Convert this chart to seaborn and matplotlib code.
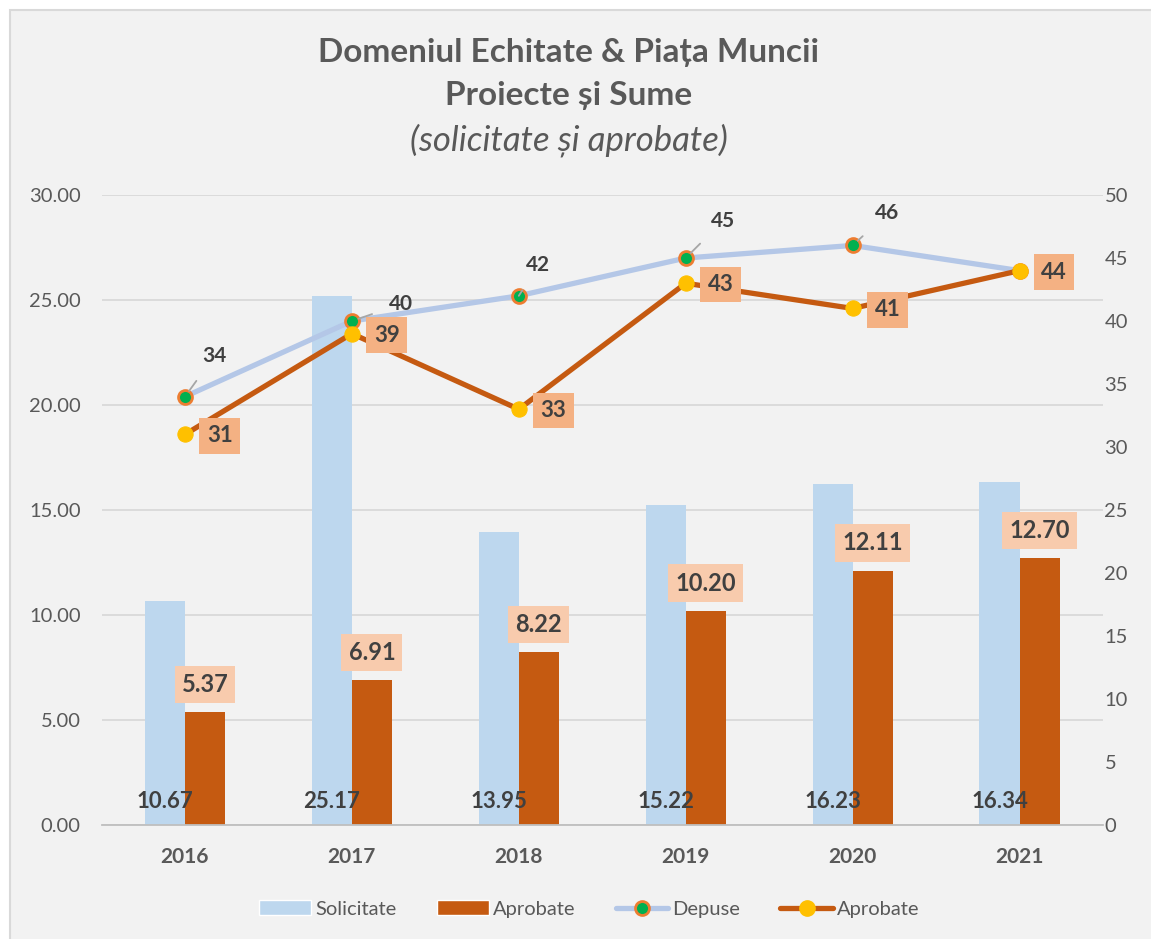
import numpy as np
import pandas as pd
import matplotlib
matplotlib.use("Agg")
import matplotlib.pyplot as plt
from matplotlib.patches import Patch, Rectangle
from matplotlib.lines import Line2D
import seaborn as sns

# Data
years = ['2016', '2017', '2018', '2019', '2020', '2021']
solicitate = [10.67, 25.17, 13.95, 15.22, 16.23, 16.34]
aprobate_sume = [5.37, 6.91, 8.22, 10.20, 12.11, 12.70]
depuse = [34, 40, 42, 45, 46, 44]
aprobate_nr = [31, 39, 33, 43, 41, 44]

sns.set_style("white")
plt.rcParams['font.family'] = ['Lato', 'DejaVu Sans']

BG = '#F2F2F2'
GRAY = '#595959'
DARK = '#404040'
C_SOL = '#BDD7EE'
C_APR = '#C55A11'
C_DEP = '#B4C7E7'

df = pd.DataFrame({
    'An': years * 2,
    'Suma': solicitate + aprobate_sume,
    'Tip': ['Solicitate'] * len(years) + ['Aprobate'] * len(years),
})

fig = plt.figure(figsize=(11.51, 9.39), dpi=100, facecolor='white')
fig.add_artist(Rectangle((10 / 1151, -0.01), 1.1, (929 / 939) + 0.01,
                         transform=fig.transFigure, facecolor=BG,
                         edgecolor='#D9D9D9', lw=1.5, zorder=-1))
ax = fig.add_axes([0.0882, 0.1214, 0.8701, 0.6709])
ax.set_facecolor(BG)

sns.barplot(data=df, x='An', y='Suma', hue='Tip', palette=[C_SOL, C_APR],
            width=0.48, gap=0, errorbar=None, saturation=1, linewidth=0,
            legend=False, ax=ax)
ax.set_xlim(-0.5, 5.5)
ax.set_ylim(0, 30)
ax.set_yticks(np.arange(0, 31, 5))
ax.set_yticklabels([f'{v:.2f}' for v in np.arange(0, 31, 5)])
ax.yaxis.grid(True, color='#D9D9D9', lw=1.3)
ax.set_axisbelow(True)
for s in ['top', 'right', 'left']:
    ax.spines[s].set_visible(False)
ax.spines['bottom'].set_color('#BFBFBF')
ax.spines['bottom'].set_linewidth(1.3)
ax.set_xlabel('')
ax.set_ylabel('')
ax.tick_params(axis='y', length=0, pad=15, labelsize=14.5, labelcolor=GRAY)
ax.tick_params(axis='x', length=0, pad=16, labelsize=15, labelcolor=GRAY)
for t in ax.get_xticklabels():
    t.set_fontweight('bold')

idx = np.arange(len(years))

# bar value labels
for i, v in enumerate(solicitate):
    ax.text(i - 0.12, 1.1, f'{v:.2f}', ha='center', va='center',
            fontsize=16, fontweight='bold', color=DARK)
for i, v in enumerate(aprobate_sume):
    ax.annotate(f'{v:.2f}', (i + 0.12, v), xytext=(0, 20), textcoords='offset points',
                ha='center', va='center', fontsize=17, fontweight='bold', color=DARK,
                bbox=dict(boxstyle='square,pad=0.3', fc='#F8CBAD', ec='none'))

# lines on secondary axis
ax2 = ax.twinx()
sns.lineplot(x=idx, y=depuse, ax=ax2, color=C_DEP, linewidth=3.8, marker='o',
             markersize=10, markerfacecolor='#00B050', markeredgecolor='#ED7D31',
             markeredgewidth=2)
sns.lineplot(x=idx, y=aprobate_nr, ax=ax2, color=C_APR, linewidth=3.8, marker='o',
             markersize=11, markerfacecolor='#FFC000', markeredgecolor='#FFC000')
ax2.set_ylim(0, 50)
ax2.set_yticks(np.arange(0, 51, 5))
ax2.tick_params(axis='y', length=0, pad=1, labelsize=14.5, labelcolor=GRAY)
for s in ax2.spines.values():
    s.set_visible(False)
ax2.set_ylabel('')

# labels for Depuse with leader lines
dep_offsets = [(21, 29), (35, 12), (14, 22), (27, 27), (25, 23), None]
for i, v in enumerate(depuse):
    off = dep_offsets[i]
    if off is None:
        continue
    ax2.annotate(str(v), (i, v), xytext=off, textcoords='offset points',
                 ha='center', va='center', fontsize=15, fontweight='bold', color=DARK,
                 arrowprops=dict(arrowstyle='-', color='#A6A6A6', lw=1.3,
                                 shrinkA=10, shrinkB=5))

for i, v in enumerate(aprobate_nr):
    ax2.annotate(str(v), (i, v), xytext=(25, -1), textcoords='offset points',
                 ha='center', va='center', fontsize=16, fontweight='bold', color=DARK,
                 bbox=dict(boxstyle='square,pad=0.33', fc='#F4B183', ec='none'))

# title
fig.text(0.494, 0.9446, 'Domeniul Echitate & Piața Muncii', ha='center', va='center',
         fontsize=24, fontweight='bold', color=GRAY)
fig.text(0.494, 0.8978, 'Proiecte și Sume', ha='center', va='center',
         fontsize=24, fontweight='bold', color=GRAY)
fig.text(0.494, 0.8509, '(solicitate și aprobate)', ha='center', va='center',
         fontsize=25, fontstyle='italic', color=GRAY)

handles = [
    Patch(facecolor=C_SOL, label='Solicitate'),
    Patch(facecolor=C_APR, label='Aprobate'),
    Line2D([], [], color=C_DEP, lw=3.8, marker='o', markersize=10,
           markerfacecolor='#00B050', markeredgecolor='#ED7D31', markeredgewidth=2,
           label='Depuse'),
    Line2D([], [], color=C_APR, lw=3.8, marker='o', markersize=11,
           markerfacecolor='#FFC000', markeredgecolor='#FFC000', label='Aprobate'),
]
leg = fig.legend(handles=handles, loc='center', bbox_to_anchor=(589 / 1151, 30 / 939),
                 ncol=4, frameon=False, fontsize=14.5, handlelength=2.6,
                 handletextpad=0.2, columnspacing=2.0)
for t in leg.get_texts():
    t.set_color(GRAY)

fig.savefig('out.png', dpi=100, facecolor=fig.get_facecolor())
